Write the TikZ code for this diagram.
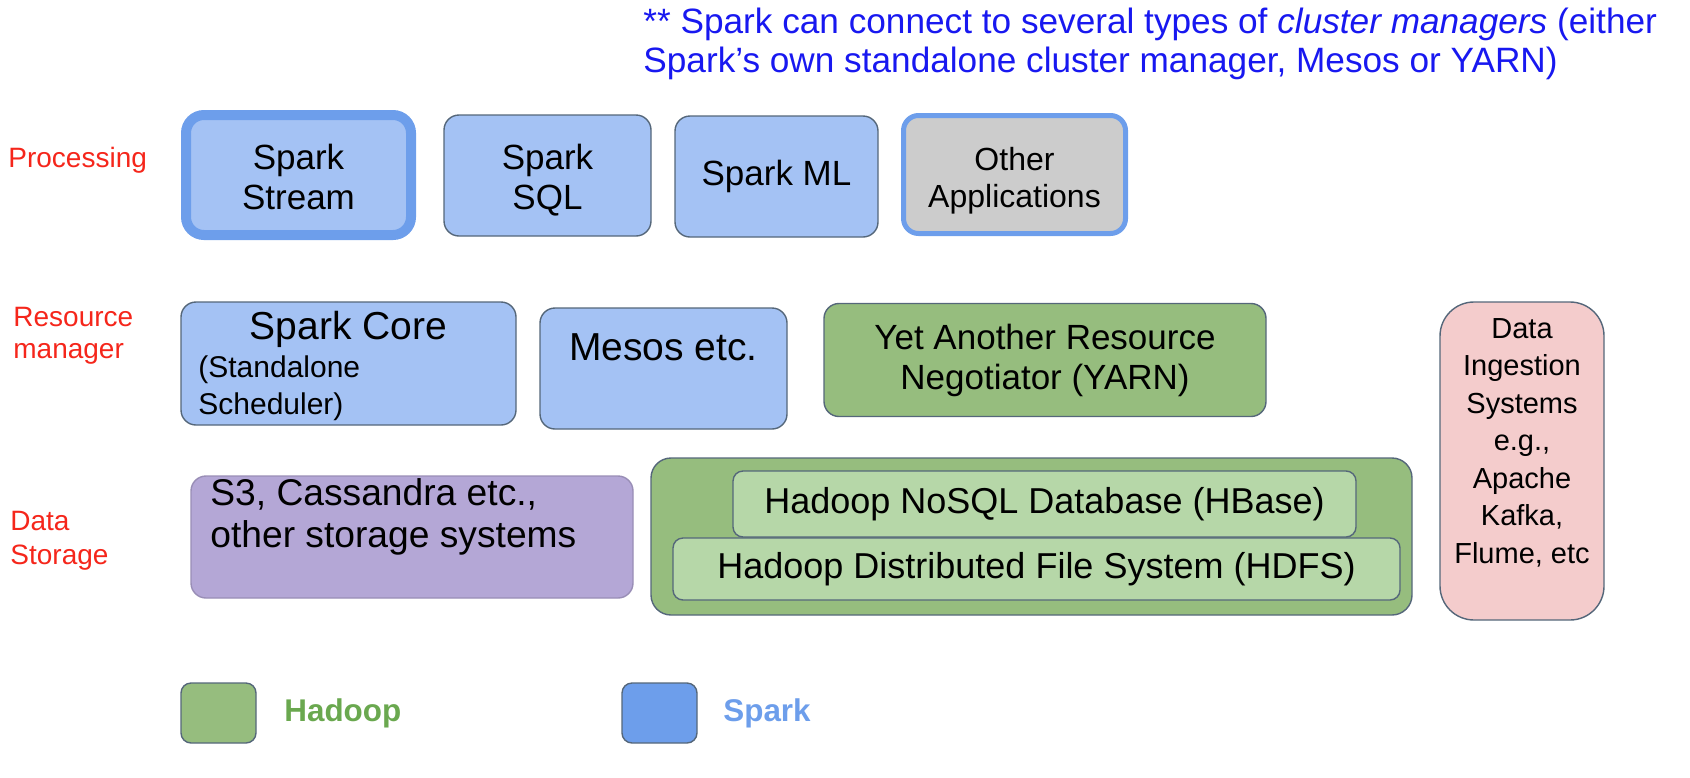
\documentclass[tikz,border=0pt]{standalone}
\usepackage{fontspec}
\setmainfont{Liberation Sans}

\definecolor{sparkfill}{HTML}{A4C2F4}
\definecolor{sparkblue}{HTML}{6D9EEB}
\definecolor{hadoopfill}{HTML}{96BD7E}
\definecolor{hdfsfill}{HTML}{B6D7A8}
\definecolor{hadooptext}{HTML}{6AA84F}
\definecolor{otherfill}{HTML}{CCCCCC}
\definecolor{storefill}{HTML}{B4A7D6}
\definecolor{ingestfill}{HTML}{F4CCCC}
\definecolor{edge}{HTML}{55677A}
\definecolor{layerred}{HTML}{F5261B}
\definecolor{noteblue}{HTML}{1818F0}

\newcommand\fsz[2]{\fontsize{#1}{#2}\selectfont}

\tikzset{
  box/.style={draw=edge, line width=0.7pt, rounded corners=7.5pt, inner sep=0pt, align=center},
  sparkbox/.style={box, fill=sparkfill},
  hadoopbox/.style={box, fill=hadoopfill},
  hdfsbox/.style={box, fill=hdfsfill, rounded corners=5pt, font=\fsz{18}{21}},
  boxtext/.style={inner sep=0pt, align=center},
  layer/.style={text=layerred, font=\fsz{14}{16}, anchor=west, align=left, inner sep=0pt},
  legend/.style={font=\bfseries\fsz{15.7}{18}, anchor=west, inner sep=0pt},
}

\begin{document}
\begin{tikzpicture}[x=0.5pt,y=-0.5pt]
\useasboundingbox (0,0) rectangle (1690,777);

% note
\node[text=noteblue, font=\fsz{17.6}{19.5}, anchor=west, align=left, inner sep=0pt] (note) at (643,44)
  {** Spark can connect to several types of \textit{cluster managers} (either\\
   Spark's own standalone cluster manager, Mesos or YARN)};

% layer names
\node[layer] (proc) at (8,160) {Processing};
\node[layer] (res) at (13,336) {Resource\\manager};
\node[layer, font=\fsz{14}{17}] (stor) at (10,541) {Data\\Storage};

% processing
\node[sparkbox, draw=sparkblue, line width=5pt, rounded corners=9pt,
  minimum width=112.5pt, minimum height=60pt] (stream) at (298.5,175) {};
\node[boxtext, font=\fsz{17.5}{20}] (streamtxt) at (298.5,177) {Spark\\Stream};
\node[sparkbox, minimum width=103.5pt, minimum height=60.5pt] (sql) at (547.5,175.5) {};
\node[boxtext, font=\fsz{17.5}{20}] (sqltxt) at (547.5,180.5) {Spark\\SQL};
\node[sparkbox, minimum width=101.5pt, minimum height=60.5pt, font=\fsz{17.5}{20}] (ml) at (776.5,176.5) {Spark ML};
\node[box, fill=otherfill, draw=sparkblue, line width=2.5pt,
  minimum width=111pt, minimum height=59pt] (other) at (1014.5,174.5) {};
\node[boxtext, font=\fsz{16}{18.5}] (othertxt) at (1014.5,181) {Other\\Applications};

% resource managers
\node[sparkbox, minimum width=167.5pt, minimum height=61.5pt] (core) at (348.5,363.5) {};
\node[boxtext, font=\fsz{19.5}{22}] (coretxt) at (348.5,329) {Spark Core};
\node[font=\fsz{15}{18.5}, anchor=west, align=left, inner sep=0pt] (sched) at (198,388.5) {(Standalone\\Scheduler)};
\node[sparkbox, minimum width=123.5pt, minimum height=60.5pt] (mesos) at (663.5,368.5) {};
\node[boxtext, font=\fsz{19.5}{22}] (mesostxt) at (663.5,347) {Mesos etc.};
\node[hadoopbox, minimum width=221pt, minimum height=56.5pt, font=\fsz{17.5}{20}] (yarn) at (1045,360)
  {Yet Another Resource\\Negotiator (YARN)};

% storage
\node[box, fill=storefill, draw=storefill!85!black, minimum width=221pt, minimum height=61pt] (s3) at (412,537) {};
\node[font=\fsz{18.6}{21}, anchor=west, align=left, inner sep=0pt] (s3txt) at (210,517)
  {S3, Cassandra etc.,\\other storage systems};
\node[hadoopbox, rounded corners=10pt, minimum width=380.5pt, minimum height=78.5pt] (hadoop) at (1031.5,536.5) {};
\node[hdfsbox, minimum width=311.5pt, minimum height=33pt] (hbase) at (1044.5,504) {Hadoop NoSQL Database (HBase)};
\node[hdfsbox, minimum width=363.5pt, minimum height=31pt] (hdfs) at (1036.5,569) {Hadoop Distributed File System (HDFS)};

% ingestion
\node[box, fill=ingestfill, rounded corners=17pt, minimum width=82pt, minimum height=159pt] (ingest) at (1522,461) {};
\node[boxtext, font=\fsz{14.5}{18.75}] (ingesttxt) at (1522,442.5)
  {Data\\Ingestion\\Systems\\e.g.,\\Apache\\Kafka,\\Flume, etc};

% legend
\node[hadoopbox, rounded corners=5pt, minimum width=37.5pt, minimum height=30pt] (leghadoop) at (218.5,713) {};
\node[legend, text=hadooptext] (leghadooptxt) at (284,713) {Hadoop};
\node[box, fill=sparkblue, rounded corners=5pt, minimum width=37.5pt, minimum height=30pt] (legspark) at (659.5,713) {};
\node[legend, text=sparkblue] (legsparktxt) at (723,713) {Spark};
\end{tikzpicture}
\end{document}
